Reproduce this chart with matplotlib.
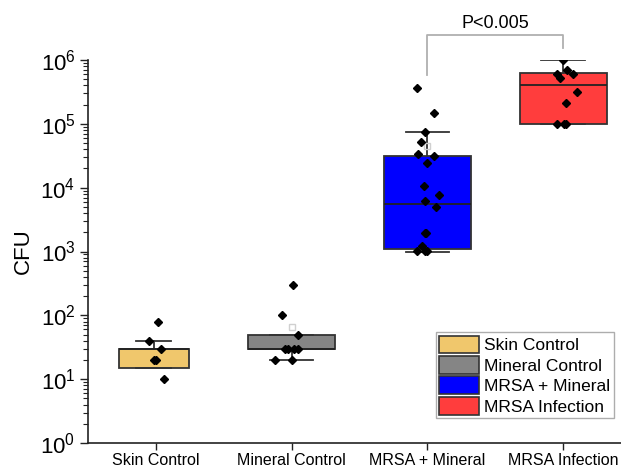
import matplotlib
matplotlib.use("Agg")
import matplotlib.pyplot as plt
from matplotlib.patches import Patch
from matplotlib.ticker import LogLocator, NullFormatter, FixedLocator

plt.rcParams['font.family'] = ['Liberation Sans', 'DejaVu Sans']

categories = ["Skin Control", "Mineral Control", "MRSA + Mineral", "MRSA Infection"]
colors = ["#F0C76C", "#858585", "#0000FF", "#FF3D3D"]
ytick_vals = [1, 10, 100, 1e3, 1e4, 1e5, 1e6]

# box statistics (q1, median, q3, lower whisker, upper whisker)
q1 = [15, 30, 1100, 1.0e5]
med = [30, 30, 5500, 4.0e5]
q3 = [30, 50, 31000, 6.2e5]
whislo = [15, 20, 1000, 1.0e5]
whishi = [40, 50, 75000, 1.0e6]
means = [None, 65, 45000, None]

# individual points
skin_pts = [80, 40, 30, 20, 20, 10]
mineral_pts = [300, 100, 50, 30, 30, 30, 30, 20, 20]
mrsa_min_pts = [360000, 150000, 75000, 52000, 34000, 31000, 24000, 10600, 7700,
                6250, 4900, 1970, 1970, 1230, 1020, 1020, 1020]
mrsa_inf_pts = [1.0e6, 6.0e5, 7.0e5, 6.0e5, 5.2e5, 3.1e5, 2.1e5, 1.0e5, 1.0e5, 1.0e5]
points = [skin_pts, mineral_pts, mrsa_min_pts, mrsa_inf_pts]

# horizontal jitter (presentation only)
jitter = [
    [0.015, -0.05, 0.04, -0.015, 0.0, 0.06],
    [0.01, -0.07, 0.045, -0.05, -0.03, 0.02, 0.045, -0.12, 0.0],
    [-0.075, 0.045, -0.02, -0.045, -0.07, 0.045, 0.0, -0.025, 0.085,
     -0.02, 0.065, -0.02, -0.01, -0.04, -0.075, -0.02, 0.0],
    [0.0, -0.045, 0.03, 0.075, -0.02, 0.1, 0.02, -0.045, 0.005, 0.02],
]
box_widths = [0.52, 0.64, 0.64, 0.64]

fig = plt.figure(figsize=(6.21, 4.70), dpi=100)
ax = fig.add_axes([88/621, 1-443/470, 1-88/621, (443-60)/470])

positions = [1, 2, 3, 4]
stats = []
for i in range(4):
    stats.append(dict(q1=q1[i], med=med[i], q3=q3[i], whislo=whislo[i],
                      whishi=whishi[i], fliers=[], label=categories[i]))

edge = "#333333"
bp = ax.bxp(stats, positions=[p - (0.015 if i == 0 else 0) for i, p in enumerate(positions)],
            widths=box_widths, patch_artist=True,
            showfliers=False,
            boxprops=dict(edgecolor=edge, linewidth=1.3),
            medianprops=dict(color="#222222", linewidth=1.3),
            whiskerprops=dict(color=edge, linewidth=1.3),
            capprops=dict(color=edge, linewidth=1.3),
            capwidths=[w / 2 for w in box_widths])
for patch, c in zip(bp['boxes'], colors):
    patch.set_facecolor(c)

for i, m in enumerate(means):
    if m is not None:
        ax.plot(positions[i], m, marker='s', markersize=4, mfc='none',
                mec='#d0d0d0', mew=1.0, zorder=3)

for i, pts in enumerate(points):
    xs = [positions[i] + j for j in jitter[i]]
    ax.plot(xs, pts, linestyle='none', marker='D', markersize=4,
            color='black', zorder=4)

ax.set_yscale('log')
ax.set_ylim(1, 1e6)
ax.yaxis.set_major_locator(FixedLocator(ytick_vals))
ax.yaxis.set_minor_locator(LogLocator(base=10, subs=range(2, 10), numticks=20))
ax.yaxis.set_minor_formatter(NullFormatter())
ax.set_yticks(ytick_vals)
ax.set_yticklabels([r"$\mathregular{10^{%d}}$" % k for k in range(7)])
ax.set_xlim(0.5, 4.426)
ax.set_xticks(positions)
ax.set_xticklabels(categories, fontsize=11.5)
ax.set_ylabel("CFU", fontsize=16, labelpad=5)
ax.tick_params(axis='y', which='major', labelsize=16, length=6, width=1, direction='out', colors='#222222', pad=3)
ax.tick_params(axis='y', which='minor', length=3.5, width=0.8, direction='out', colors='#222222')
ax.tick_params(axis='x', which='major', length=5, width=1, direction='out', colors='#222222', pad=2)
for lbl in ax.get_yticklabels() + ax.get_xticklabels():
    lbl.set_color('black')
ax.spines['top'].set_visible(False)
ax.spines['right'].set_visible(False)
ax.spines['left'].set_color('#222222')
ax.spines['bottom'].set_color('#222222')
ax.spines['left'].set_linewidth(1.2)
ax.spines['bottom'].set_linewidth(1.2)

# significance bracket
bx = [3, 3, 4, 4]
by = [5.8e5, 2.46e6, 2.46e6, 1.55e6]
ax.plot(bx, by, color='#b0b0b0', linewidth=1.3, clip_on=False)
ax.text(3.5, 3.7e6, "P<0.005", ha='center', va='center', fontsize=13)

handles = [Patch(facecolor=c, edgecolor=edge, linewidth=1.2) for c in colors]
leg = ax.legend(handles, categories, loc='lower right', bbox_to_anchor=(0.987, 0.065),
                fontsize=12.5, frameon=True, fancybox=False, edgecolor='#999999',
                handlelength=2.3, handleheight=1.2, labelspacing=0.15,
                handletextpad=0.3, borderpad=0.2, borderaxespad=0)
leg.get_frame().set_linewidth(1.0)

fig.savefig("out.png", dpi=100)
